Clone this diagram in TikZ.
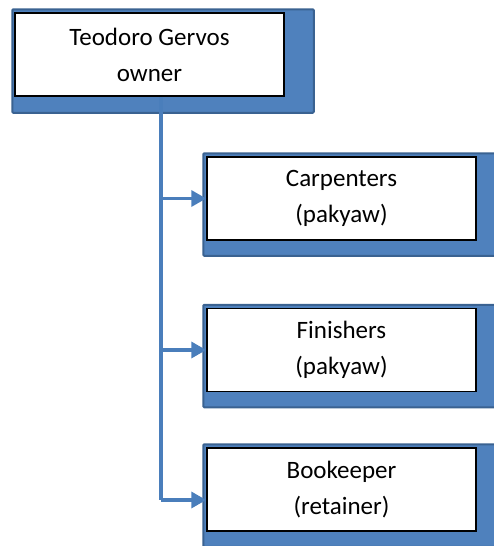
\documentclass[tikz,border=0pt]{standalone}
\usepackage{fontspec}
\setmainfont{Carlito}
\usetikzlibrary{calc,backgrounds,arrows.meta}
\definecolor{boxblue}{HTML}{4F81BD}
\definecolor{boxedge}{HTML}{3A6291}
\definecolor{linkblue}{HTML}{4A7EBB}
\tikzset{
  staff/.style={draw=black,line width=1.5pt,fill=white,minimum width=269pt,
    minimum height=83pt,align=center,inner sep=0pt,
    font=\fontsize{25}{36}\selectfont},
  backing/.style={fill=boxblue,draw=boxedge,line width=2pt,rounded corners=1pt},
  link/.style={draw=linkblue,line width=3.5pt},
}
\begin{document}
\begin{tikzpicture}[x=1pt,y=-1pt]
\useasboundingbox (0,0) rectangle (494,546);
\node[staff] (owner) at (149.5,54.5) {Teodoro Gervos\\owner};
\node[staff] (carp) at (341.5,198.5) {Carpenters\\(pakyaw)};
\node[staff] (fin) at (341.5,350) {Finishers\\(pakyaw)};
\node[staff] (book) at (341.5,489.5) {Bookeeper\\(retainer)};

% blue backs behind the boxes
\begin{scope}[on background layer]
\draw[backing] ($(owner.north west)+(-2,-3)$) rectangle ($(owner.south east)+(29,16)$);
\foreach \n in {carp,fin,book}
  \draw[backing] ($(\n.north west)+(-3,-3)$) rectangle ($(\n.south east)+(40,15)$);
\end{scope}

\coordinate (spine) at (161,500);
\draw[link] (owner.south -| spine) -- (spine);
\draw[link,-{Triangle[length=15pt,width=16pt]}] (spine |- carp.west) -- (carp.west);
\draw[link,-{Triangle[length=15pt,width=16pt]}] (spine |- fin.west) -- (fin.west);
\draw[link,-{Triangle[length=15pt,width=16pt]}] (spine) -- (spine -| book.west);

\end{tikzpicture}
\end{document}
